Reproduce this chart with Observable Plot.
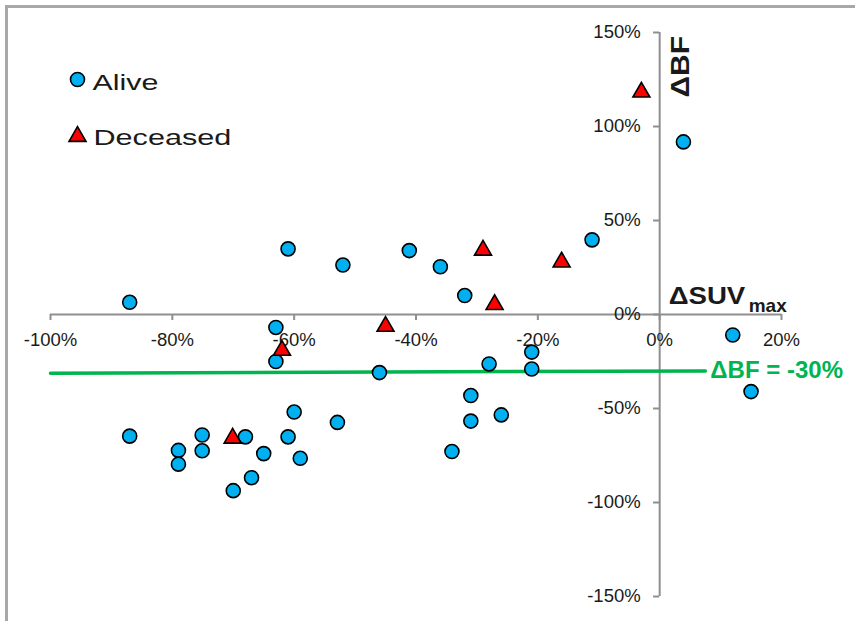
<!DOCTYPE html>
<html>
<head>
<meta charset="utf-8">
<script src="https://cdn.jsdelivr.net/npm/d3@7"></script>
<script src="https://cdn.jsdelivr.net/npm/@observablehq/plot@0.6"></script>
<style>
  html, body { margin: 0; padding: 0; background: #fff; }
  #wrap { position: relative; width: 855px; height: 621px; overflow: hidden; }
  #border { position: absolute; left: 5px; top: 5px; width: 900px; height: 700px;
            border-top: 3px solid #a8a8a8; border-left: 3px solid #a8a8a8; pointer-events: none; }
  svg { font-family: "Liberation Sans", Arial, sans-serif; }
</style>
</head>
<body>
<div id="wrap"><div id="border"></div></div>
<script>
// ---- Data ----
const xTicks = [-100, -80, -60, -40, -20, 0, 20];
const yTicks = [150, 100, 50, 0, -50, -100, -150];

const aliveX = [-87.0, -61.0, -52.0, -41.1, -36.0, -32.0, -11.1, 3.9, -63.0, -63.0, -46.0, -28.0, -21.0, -21.0, 12.0, 15.0,
                -31.0, -26.0, -31.0, -34.1, -52.9, -60.0, -61.0, -59.0, -68.0, -65.0, -67.0, -70.0, -75.1, -75.1, -79.0, -79.0, -87.0];
const aliveY = [6.5, 34.9, 26.3, 34.0, 25.4, 10.1, 39.7, 91.8, -6.9, -25.0, -30.9, -26.3, -20.0, -29.0, -10.9, -41.0,
                -43.1, -53.4, -56.7, -72.9, -57.4, -51.9, -65.1, -76.5, -65.1, -74.0, -86.8, -93.7, -64.1, -72.5, -72.3, -79.6, -64.7];

const deceasedX = [-3.0, -29.0, -16.1, -27.1, -45.0, -62.0, -70.1];
const deceasedY = [118.3, 34.2, 27.9, 5.3, -6.3, -19.1, -65.8];

const thresholdLabel = "ΔBF = -30%";
const thresholdX = [-100, 7.5];
const thresholdY = [-31.2, -30];

const legendLabels = ["Alive", "Deceased"];
const xTitle = "ΔSUV", xTitleSub = "max", yTitle = "ΔBF";

// ---- Build tables ----
const alive = aliveX.map((x, i) => ({x, y: aliveY[i]}));
const deceased = deceasedX.map((x, i) => ({x, y: deceasedY[i]}));
const threshold = thresholdX.map((x, i) => ({x, y: thresholdY[i]}));

const BLUE = "#00b0f0", RED = "#ff0000", GREEN = "#00b44f", AXIS = "#8f8f8f", INK = "#1a1a1a";
const FONT = "Liberation Sans, Arial, sans-serif";

const chart = Plot.plot({
  width: 855,
  height: 621,
  marginLeft: 50,
  marginRight: 74,
  marginTop: 32,
  marginBottom: 25,
  style: {background: "transparent", fontFamily: FONT},
  x: {domain: [-100, 20], axis: null},
  y: {domain: [-150, 150], axis: null},
  marks: [
    // axes lines
    Plot.ruleY([0], {x1: xTicks[0], x2: xTicks[xTicks.length - 1], stroke: AXIS, strokeWidth: 2}),
    Plot.ruleX([0], {y1: yTicks[yTicks.length - 1], y2: yTicks[0], stroke: AXIS, strokeWidth: 2}),
    // tick marks
    Plot.ruleX(xTicks, {x: d => d, y1: 0, y2: -3.2, stroke: AXIS, strokeWidth: 2}),
    Plot.ruleY(yTicks, {y: d => d, x1: 0, x2: -1.0, stroke: AXIS, strokeWidth: 2}),
    // tick labels
    Plot.text(xTicks, {x: d => d, y: 0, text: d => d + "%", dy: 26, fontSize: 18.5, fill: INK, fontFamily: FONT}),
    Plot.text(yTicks, {x: 0, y: d => d, text: d => d + "%", dx: -19, textAnchor: "end", fontSize: 18.5, fill: INK, fontFamily: FONT}),
    // axis titles
    Plot.text([xTitle], {x: 0, y: 0, text: d => d, dx: 9, dy: -11, textAnchor: "start", lineAnchor: "bottom",
                         fontSize: 24, fontWeight: "bold", fill: INK, fontFamily: FONT}),
    Plot.text([xTitleSub], {x: 0, y: 0, text: d => d, dx: 89, dy: -3, textAnchor: "start", lineAnchor: "bottom",
                         fontSize: 19, fontWeight: "bold", fill: INK, fontFamily: FONT}),
    Plot.text([yTitle], {x: 0, y: yTicks[0], text: d => d, dx: 29, dy: 65, rotate: -90, textAnchor: "start", lineAnchor: "bottom",
                         fontSize: 25, fontWeight: "bold", fill: INK, fontFamily: FONT}),
    // threshold line and label
    Plot.line(threshold, {x: "x", y: "y", stroke: GREEN, strokeWidth: 3.5}),
    Plot.text([threshold[threshold.length - 1]], {x: "x", y: "y", text: () => thresholdLabel, dx: 5, dy: 7,
                         textAnchor: "start", lineAnchor: "bottom", fontSize: 24, fontWeight: "bold", fill: GREEN, fontFamily: FONT}),
    // data
    Plot.dot(alive, {x: "x", y: "y", r: 7, fill: BLUE, stroke: "black", strokeWidth: 1.6}),
    Plot.dot(deceased, {x: "x", y: "y", r: 6.3, symbol: "triangle", fill: RED, stroke: "black", strokeWidth: 1.6}),
    // legend
    Plot.dot([legendLabels[0]], {frameAnchor: "top-left", dx: 27, dy: 47, r: 7, fill: BLUE, stroke: "black", strokeWidth: 1.6}),
    Plot.dot([legendLabels[1]], {frameAnchor: "top-left", dx: 27, dy: 104, r: 6.3, symbol: "triangle", fill: RED, stroke: "black", strokeWidth: 1.6}),
    Plot.text([legendLabels[0]], {frameAnchor: "top-left", text: d => d, dx: 42, dy: 57, textAnchor: "start", lineAnchor: "bottom",
                         fontSize: 22.5, fill: INK, fontFamily: FONT}),
    Plot.text([legendLabels[1]], {frameAnchor: "top-left", text: d => d, dx: 43, dy: 112, textAnchor: "start", lineAnchor: "bottom",
                         fontSize: 22.5, fill: INK, fontFamily: FONT})
  ]
});

document.getElementById("wrap").insertBefore(chart, document.getElementById("border"));

// horizontal stretch of some labels, as in the reference
const stretch = {"Alive": 1.35, "Deceased": 1.36, "ΔSUV": 1.15, "ΔBF": 1.2};
chart.querySelectorAll("text").forEach(t => {
  const f = stretch[t.textContent];
  if (f) {
    const w = t.getComputedTextLength();
    t.setAttribute("textLength", (w * f).toFixed(1));
    t.setAttribute("lengthAdjust", "spacingAndGlyphs");
  }
});
</script>
</body>
</html>
